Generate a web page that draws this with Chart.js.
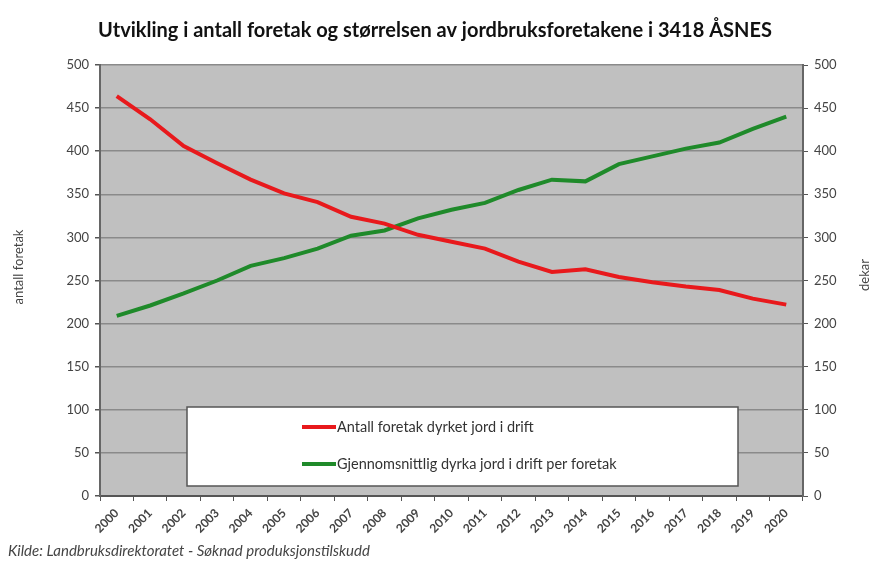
<!DOCTYPE html>
<html>
<head>
<meta charset="utf-8">
<script src="https://cdn.jsdelivr.net/npm/chart.js@4"></script>
<style>
  html, body { margin: 0; padding: 0; background: #fff; }
  #wrap { width: 870px; height: 562px; }
</style>
</head>
<body>
<div id="wrap"><canvas id="chartCanvas"></canvas></div>
<script>
const years = ['2000', '2001', '2002', '2003', '2004', '2005', '2006', '2007', '2008', '2009', '2010',
  '2011', '2012', '2013', '2014', '2015', '2016', '2017', '2018', '2019', '2020'];
const antallForetak = [464, 437, 406, 386, 367, 351, 341, 324, 316, 303, 295, 287, 272, 260, 263, 254, 248, 243, 239, 229, 222];
const snittDekar = [209, 221, 235, 250, 267, 276, 287, 302, 308, 322, 332, 340, 355, 367, 365, 385, 394, 403, 410, 426, 440];
const seriesNames = ['Antall foretak dyrket jord i drift', 'Gjennomsnittlig dyrka jord i drift per foretak'];
const yTicks = [0, 50, 100, 150, 200, 250, 300, 350, 400, 450, 500];

const font = 'Lato, "Open Sans", sans-serif';
const tickColor = '#444';

// grey plot background + axis titles + footer + legend box inside the plot
const decor = {
  id: 'decor',
  beforeDraw(chart) {
    const { ctx, chartArea: a } = chart;
    ctx.save();
    ctx.fillStyle = '#c0c0c0';
    ctx.fillRect(a.left, a.top, a.right - a.left, a.bottom - a.top);
    ctx.restore();
  },
  afterDatasetsDraw(chart) {
    const { ctx, chartArea: a } = chart;
    ctx.save();
    // legend box
    const bx = a.left + 87, by = a.top + 342, bw = 551, bh = 79;
    ctx.fillStyle = '#fff';
    ctx.fillRect(bx, by, bw, bh);
    ctx.strokeStyle = '#555';
    ctx.lineWidth = 1.5;
    ctx.strokeRect(bx, by, bw, bh);
    ctx.font = '14.5px ' + font;
    ctx.textBaseline = 'middle';
    chart.data.datasets.forEach((ds, i) => {
      const y = by + 20 + i * 37;
      ctx.strokeStyle = ds.borderColor;
      ctx.lineWidth = 4;
      ctx.beginPath();
      ctx.moveTo(bx + 115, y);
      ctx.lineTo(bx + 149, y);
      ctx.stroke();
      ctx.fillStyle = '#333';
      ctx.fillText(ds.label, bx + 150, y);
    });
    ctx.restore();
  },
  afterDraw(chart) {
    const { ctx } = chart;
    ctx.save();
    ctx.fillStyle = '#444';
    ctx.font = '13px ' + font;
    ctx.textAlign = 'center';
    ctx.textBaseline = 'middle';
    ctx.translate(19, 267);
    ctx.rotate(-Math.PI / 2);
    ctx.fillText('antall foretak', 0, 0);
    ctx.restore();
    ctx.save();
    ctx.fillStyle = '#444';
    ctx.font = '13px ' + font;
    ctx.textAlign = 'center';
    ctx.textBaseline = 'middle';
    ctx.translate(865, 275);
    ctx.rotate(-Math.PI / 2);
    ctx.fillText('dekar', 0, 0);
    ctx.restore();
    ctx.save();
    ctx.fillStyle = '#444';
    ctx.font = 'italic 15px ' + font;
    ctx.textBaseline = 'middle';
    ctx.fillText('Kilde: Landbruksdirektoratet - Søknad produksjonstilskudd', 8, 551);
    ctx.restore();
  }
};

new Chart(document.getElementById('chartCanvas'), {
  type: 'line',
  data: {
    labels: years,
    datasets: [{
      label: seriesNames[0],
      data: antallForetak,
      borderColor: '#e8191c',
      borderWidth: 4,
      pointRadius: 0,
      tension: 0,
      yAxisID: 'y'
    }, {
      label: seriesNames[1],
      data: snittDekar,
      borderColor: '#1f8a2a',
      borderWidth: 4,
      pointRadius: 0,
      tension: 0,
      yAxisID: 'y2'
    }]
  },
  options: {
    responsive: true,
    maintainAspectRatio: false,
    animation: false,
    layout: { padding: 0 },
    plugins: {
      legend: { display: false },
      tooltip: { enabled: false },
      title: {
        display: true,
        text: 'Utvikling i antall foretak og størrelsen av jordbruksforetakene i 3418 ÅSNES',
        color: '#111',
        font: { family: font, size: 20, weight: 'bold', lineHeight: 1.2 },
        padding: { top: 19, bottom: 22 }
      }
    },
    scales: {
      x: {
        offset: true,
        grid: { display: true, drawOnChartArea: false, drawTicks: true, tickLength: 5, color: '#555', offset: true },
        border: { color: '#555', width: 2 },
        ticks: { color: tickColor, font: { family: font, size: 12, weight: 'bold' }, minRotation: 45, maxRotation: 45, padding: 5 },
        afterFit(s) { s.height = 66; }
      },
      y: {
        position: 'left',
        min: 0, max: 500,
        afterBuildTicks(s) { s.ticks = yTicks.map(v => ({ value: v })); },
        grid: { color: '#8a8a8a', lineWidth: 1.5, tickLength: 5, tickColor: '#555' },
        border: { color: '#666', width: 2 },
        ticks: { color: tickColor, font: { family: font, size: 13 }, padding: 6 },
        afterFit(s) { s.width = 100; }
      },
      y2: {
        position: 'right',
        min: 0, max: 500,
        afterBuildTicks(s) { s.ticks = yTicks.map(v => ({ value: v })); },
        grid: { drawOnChartArea: false, tickLength: 5, color: '#555' },
        border: { color: '#666', width: 2 },
        ticks: { color: tickColor, font: { family: font, size: 13 }, padding: 6 },
        afterFit(s) { s.width = 67; }
      }
    }
  },
  plugins: [decor]
});
</script>
</body>
</html>
